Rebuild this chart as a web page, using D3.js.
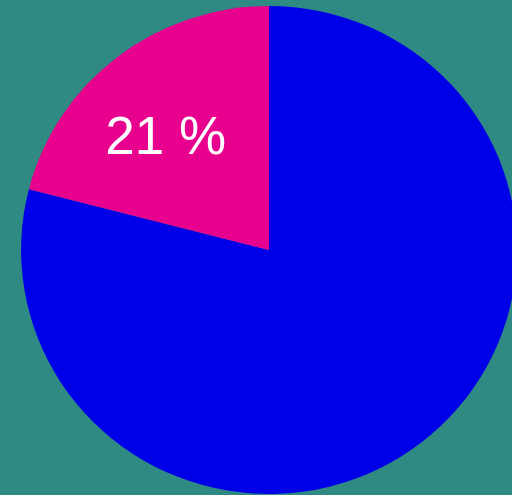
<!DOCTYPE html>
<html>
<head>
<meta charset="utf-8">
<script src="https://cdn.jsdelivr.net/npm/d3@7/dist/d3.min.js"></script>
<style>
  html, body { margin: 0; padding: 0; background: #2e8a82; }
  svg { display: block; }
</style>
</head>
<body>
<svg id="chart" width="512" height="495"></svg>
<script>
// Slice data
const categories = ["A", "B"];
const values = [79, 21];
const colors = ["#0000e8", "#e8008e"];
const labels = ["", "21 %"];

const W = 512, H = 495;
const svg = d3.select("#chart");
svg.append("rect").attr("width", W).attr("height", H).attr("fill", "#2e8a82");

const r = 244;
const g = svg.append("g")
  .attr("transform", "translate(269,250) scale(1.016,1)");

const pie = d3.pie().sort(null).value(d => d.value)
  .startAngle(0).endAngle(2 * Math.PI);
const data = categories.map((c, i) => ({ cat: c, value: values[i], color: colors[i], label: labels[i] }));
const arcs = pie(data);

const arc = d3.arc().innerRadius(0).outerRadius(r);
const labelArc = d3.arc().innerRadius(r * 0.6).outerRadius(r * 0.6);

g.selectAll("path.slice")
  .data(arcs)
  .join("path")
  .attr("class", "slice")
  .attr("d", arc)
  .attr("fill", d => d.data.color);

g.selectAll("text.lbl")
  .data(arcs.filter(d => d.data.label))
  .join("text")
  .attr("class", "lbl")
  .attr("transform", d => {
    const [x, y] = labelArc.centroid(d);
    return `translate(${x - 12},${y}) scale(${1 / 1.016},1)`;
  })
  .attr("text-anchor", "middle")
  .attr("dy", "0.38em")
  .attr("fill", "#ffffff")
  .attr("font-family", "Liberation Sans, Arial, sans-serif")
  .attr("font-size", 53)
  .text(d => d.data.label);
</script>
</body>
</html>
